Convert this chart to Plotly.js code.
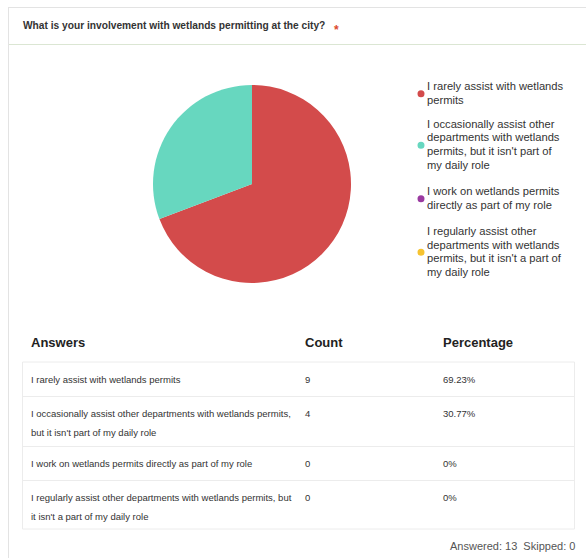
<!DOCTYPE html>
<html>
<head>
<meta charset="utf-8">
<script src="https://cdn.plot.ly/plotly-3.0.1.min.js"></script>
<style>html,body{margin:0;padding:0;background:#fff;}#chart{width:586px;height:558px;}</style>
</head>
<body>
<div id="chart"></div>
<script>
// ---- data ----
var question = "What is your involvement with wetlands permitting at the city?";
var answers = [
  "I rarely assist with wetlands permits",
  "I occasionally assist other departments with wetlands permits, but it isn't part of my daily role",
  "I work on wetlands permits directly as part of my role",
  "I regularly assist other departments with wetlands permits, but it isn't a part of my daily role"
];
var counts = [9, 4, 0, 0];
var percentages = ["69.23%", "30.77%", "0%", "0%"];
var sliceColors = ["#d34b4b", "#67d7bf", "#9a3aa0", "#f6c330"];
var legendLabels = [
  ["I rarely assist with wetlands", "permits"],
  ["I occasionally assist other", "departments with wetlands", "permits, but it isn't part of", "my daily role"],
  ["I work on wetlands permits", "directly as part of my role"],
  ["I regularly assist other", "departments with wetlands", "permits, but it isn't a part of", "my daily role"]
];
var tableLabels = [
  ["I rarely assist with wetlands permits"],
  ["I occasionally assist other departments with wetlands permits,", "but it isn't part of my daily role"],
  ["I work on wetlands permits directly as part of my role"],
  ["I regularly assist other departments with wetlands permits, but", "it isn't a part of my daily role"]
];
var tableHeaders = ["Answers", "Count", "Percentage"];
var answeredCount = 13, skippedCount = 0;

// ---- layout helpers (pixel -> paper) ----
var W = 586, H = 558;
function X(p){ return p / W; }
function Y(p){ return 1 - p / H; }
var FONT = "Liberation Sans, Arial, Helvetica, sans-serif";

var shapes = [], annotations = [];
function text(t, x, y, size, color, bold, anchor){
  annotations.push({
    xref:'paper', yref:'paper', x:X(x), y:Y(y), text: bold ? '<b>'+t+'</b>' : t,
    showarrow:false, xanchor: anchor || 'left', yanchor:'middle',
    font:{family:FONT, size:size, color:color}, borderpad:0
  });
}
function hline(x0, x1, y, color){
  shapes.push({type:'line', xref:'paper', yref:'paper', x0:X(x0), x1:X(x1), y0:Y(y), y1:Y(y), line:{color:color, width:1}});
}
function vline(x, y0, y1, color){
  shapes.push({type:'line', xref:'paper', yref:'paper', x0:X(x), x1:X(x), y0:Y(y0), y1:Y(y1), line:{color:color, width:1}});
}

// panel frame
hline(8, 586, 7.5, "#e3e3e3");
vline(8.5, 7, 558, "#e3e3e3");
hline(9, 586, 44.5, "#dbe6d3");

// title
text(question, 22, 26, 10.2, "#333333", true);
text("*", 333, 30, 12, "#dc4a2e", true);

// legend (circles + wrapped text)
var legendTops = [86, 124, 191, 231];
var lineGapLegend = 13.5;
legendLabels.forEach(function(lines, i){
  var top = legendTops[i];
  lines.forEach(function(l, j){ text(l, 426, top + j*lineGapLegend, 11.2, "#333333", false); });
  var cy = top + (lines.length - 1) * lineGapLegend / 2 + 1;
  shapes.push({type:'circle', xref:'paper', yref:'paper', x0:X(417.5), x1:X(424.5), y0:Y(cy+3.5), y1:Y(cy-3.5),
    fillcolor: sliceColors[i], line:{width:0}});
});

// table
var colX = [31, 305, 443];
tableHeaders.forEach(function(h, i){ text(h, colX[i]-1, 342, 13, "#222222", true); });
var rowBounds = [362, 396, 446, 480, 529];
var tLeft = 22.5, tRight = 574.5;
shapes.push({type:'rect', xref:'paper', yref:'paper', x0:X(tLeft), x1:X(tRight), y0:Y(rowBounds[4]), y1:Y(rowBounds[0]),
  line:{color:"#ececec", width:1}, fillcolor:'rgba(0,0,0,0)'});
for (var r = 1; r < rowBounds.length - 1; r++) hline(tLeft, tRight, rowBounds[r] + 0.5, "#ececec");
var rowLineGap = 19;
answers.forEach(function(a, i){
  var lines = tableLabels[i];
  var top = rowBounds[i] + 17;
  lines.forEach(function(l, j){ text(l, colX[0]-1, top + j*rowLineGap, 9.5, "#333333", false); });
  text(String(counts[i]), colX[1]-1, top, 9.5, "#333333", false);
  text(percentages[i], colX[2]-1, top, 9.5, "#333333", false);
});

// footer
text("Answered: " + answeredCount + "&nbsp;&nbsp;Skipped: " + skippedCount, 576, 546, 11, "#555555", false, 'right');

var pie = {
  type:'pie', labels: answers, values: counts, sort:false, direction:'clockwise', rotation:0,
  marker:{colors: sliceColors, line:{width:0}}, textinfo:'none', showlegend:false,
  domain:{x:[X(153), X(351)], y:[Y(283), Y(85)]}, hoverinfo:'label+value+percent'
};

Plotly.newPlot('chart', [pie], {
  width: W, height: H, autosize:false,
  margin:{l:0, r:0, t:0, b:0, pad:0},
  paper_bgcolor:'#ffffff', plot_bgcolor:'#ffffff',
  showlegend:false,
  shapes: shapes, annotations: annotations
}, {displayModeBar:false, staticPlot:true});
</script>
</body>
</html>
